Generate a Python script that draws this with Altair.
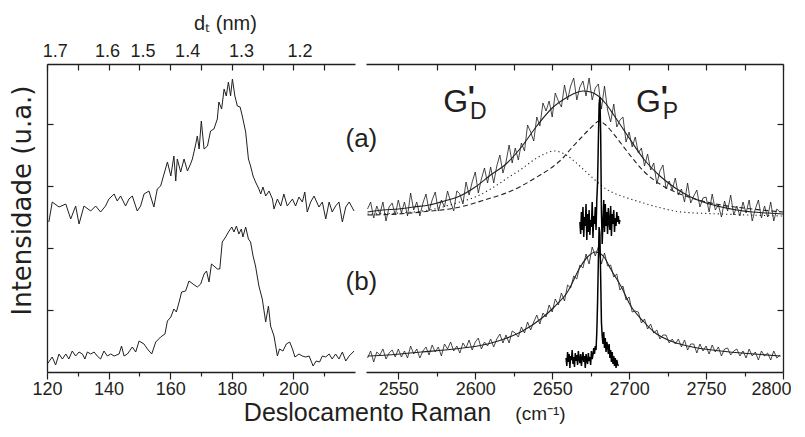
import altair as alt
import pandas as pd

INK = "#231f20"
FONT = "Liberation Sans"
YFONT = "DejaVu Sans"

# ---------------- RBM region (left panel), cm^-1 vs intensity (a.u.) ----------------
rbm_a_x = [120.6,121.7,123.9,126.1,127.7,129.3,130.4,132.0,134.2,135.8,137.4,139.0,140.1,141.8,142.8,
           143.9,145.5,146.6,147.7,149.3,150.4,151.5,153.1,154.7,155.8,156.9,158.0,159.1,160.2,161.2,
           161.8,162.3,163.4,164.5,165.6,166.6,167.2,168.3,168.8,169.4,170.1,171.0,172.1,173.1,174.2,
           175.3,175.8,176.7,177.5,178.2,178.9,179.6,180.2,181.0,181.8,182.7,183.4,184.5,185.4,186.1,
           186.9,187.7,188.8,189.4,190.1,191.0,192.1,193.2,193.7,194.8,195.9,196.9,198.0,199.7,200.7,
           201.8,202.9,203.7,204.5,205.6,206.7,208.3,209.4,210.5,211.6,212.6,213.7,214.8,215.9,217.0,
           218.1,219.7]
rbm_a_y = [150,170,165,168,153,166,148,166,161,166,160,166,173,178,171,
           176,166,173,176,161,166,178,181,165,183,186,198,210,196,216,
           191,213,200,213,201,208,213,228,236,223,251,223,226,241,243,
           253,270,263,283,276,290,276,293,276,266,265,256,240,213,206,
           196,190,183,178,185,176,181,173,163,173,166,178,166,173,166,
           175,170,180,160,170,176,165,170,153,170,160,166,170,150,165,
           170,161]

rbm_b_x = [120.1,121.7,122.8,123.9,125.0,126.1,127.1,128.2,129.3,130.4,131.5,132.3,133.1,134.2,135.3,
           136.3,137.4,138.5,139.6,140.7,141.8,143.4,144.2,145.0,146.1,147.7,148.8,149.9,151.5,152.6,
           154.0,155.3,156.9,158.3,159.1,160.2,161.2,162.0,162.9,163.7,165.0,166.1,167.4,168.8,169.9,
           171.0,171.8,172.6,173.4,174.2,175.3,176.1,176.9,178.0,179.1,180.0,180.7,181.5,182.3,183.1,
           183.6,184.5,185.4,186.1,186.9,187.7,188.8,189.9,191.0,191.9,192.6,193.7,194.8,195.5,196.6,
           197.7,198.8,199.7,200.5,201.8,202.9,204.0,205.1,206.4,207.4,208.5,209.4,210.5,211.6,212.6,
           213.7,214.8,215.9,217.0,218.1,219.7]
rbm_b_y = [8,15,7,18,13,18,13,21,16,20,18,13,20,18,20,
           16,13,21,16,18,16,18,26,16,18,25,20,31,28,23,
           18,30,35,38,51,55,63,60,70,80,81,91,88,85,88,
           98,101,90,108,106,103,103,130,135,141,145,140,146,138,143,
           135,145,133,130,116,106,86,73,50,66,46,36,16,23,21,
           28,30,23,15,18,16,15,16,6,11,10,16,15,18,13,
           18,13,20,11,16,21]

# ---------------- G' region (right panel) ----------------
g_start, g_step = 2530, 2   # sampling grid of the G' spectra
ga_y = [163,170,154,166,158,170,151,165,169,157,
        172,159,170,156,179,162,170,156,169,178,
        161,172,180,161,172,165,181,170,161,181,
        178,168,190,177,190,200,179,193,204,189,
        205,189,206,217,199,210,227,209,224,212,
        229,221,247,240,231,255,246,269,261,271,
        255,279,271,265,287,272,286,294,272,285,
        291,276,294,272,284,288,263,286,262,250,
        268,245,252,255,230,240,225,235,219,224,
        206,218,202,209,188,201,207,183,191,182,
        194,177,183,170,189,169,176,182,165,174,
        175,160,178,162,167,155,171,161,177,157,
        166,156,170,159,172,151,163,172,154,166,
        155,170,151,163,160]
gb_y = [14,21,10,20,17,23,13,19,22,15,
        23,15,21,14,26,18,23,14,21,25,
        17,27,20,25,16,28,23,30,21,26,
        19,29,24,32,22,30,34,23,30,26,
        33,25,33,38,29,37,29,41,39,35,
        45,39,50,42,50,57,48,59,55,67,
        60,73,67,79,71,87,84,96,93,107,
        104,118,108,125,116,125,108,119,106,107,
        95,98,82,86,72,75,60,61,60,49,
        53,43,48,39,42,33,37,37,29,33,
        28,33,25,32,22,28,28,19,28,21,
        26,18,27,20,25,16,23,24,17,21,
        23,16,21,14,23,16,20,12,21,16,
        19,12,21,14,17]

fit_a_x = [2530,2540,2550,2560,2570,2580,2590,2600,2610,2620,2630,2640,2650,2660,2665,2670,
           2675,2680,2685,2690,2700,2710,2720,2730,2740,2750,2760,2770,2780,2790,2800]
fit_a_y = [160,162,163,165,167,171,176,185,197,208,225,246,264,275,279,281,
           280,276,268,257,234,212,196,184,175,169,165,162,160,159,158]

comp_d_x = [2530,2550,2570,2590,2600,2610,2620,2630,2640,2645,2651,2655,2660,2665,2670,2675,
            2680,2685,2690,2695,2705,2716,2734,2760,2800]
comp_d_y = [158,159,162,170,175,183,193,203,214,218,221,220,216,210,203,196,
            189,183,179,176,171,166,160,158,156]

comp_p_x = [2530,2550,2565,2590,2608,2620,2630,2640,2651,2657,2662,2668,2673,2677,2680.5,2684,
            2690,2695,2700,2710,2720,2730,2745,2760,2780,2800]
comp_p_y = [157,158,160,165,173,179,186,195,206,214,223,233,241,247,251,248,
            238,228,218,200,188,180,172,167,163,160]

fit_b_x = [2530.1,2543.0,2564.7,2586.3,2608.0,2618.8,2629.6,2642.6,2651.3,2659.9,2668.6,2672.9,
           2678.3,2683.7,2688.0,2694.6,2701.1,2709.7,2716.2,2727.0,2737.9,2759.5,2781.1,2798.5]
fit_b_y = [16,17,20,23,28,33,40,53,65,80,106,115,
           120,115,103,86,66,50,40,31,26,21,18,16]

na_start, na_step = 2668, 0.5
narrow_a_y = [150,138,160,142,165,135,155,146,168,132,158,140,162,137,152,145,170,134,156,
              148,165,142,172,190,230,
              268,275,240,160,128,
              150,172,140,168,146,160,138,164,150,142,166,136,158,148,162,140,154,146,160,150,156,148,152]
nb_start, nb_step = 2659, 0.5
narrow_b_y = [14,6,20,10,18,4,16,12,22,8,15,5,19,11,17,7,21,13,9,18,6,14,20,10,16,4,18,12,8,19,11,15,7,21,13,17,24,
              18,26,22,40,70,110,
              145,138,95,50,
              36,28,40,24,34,20,30,26,18,28,14,22,10,20,8,16,6,14,4,12,8,6]

# labels
dt_labels = ["1.7", "1.6", "1.5", "1.4", "1.3", "1.2"]
dt_pos = [122.5, 139.5, 151.0, 165.5, 183.0, 202.0]
panel_labels = ["(a)", "(b)"]
panel_x = [2526, 2526]
panel_y = [233, 90]
band_x = [2579.2, 2704.5]          # left edge of "G"
band_y = [260, 260]                # baseline of "G"
band_prime_x = [2597.5, 2722.8]
band_prime_y = [266, 266]
band_sub = ["D", "P"]
band_sub_x = [2596.6, 2721.9]
band_sub_y = [253, 253]

y_ticks = [62, 124, 186, 248]
xl_major = [120, 140, 160, 180, 200]
xl_minor = [130, 150, 170, 190, 210]
xr_major = [2550, 2600, 2650, 2700, 2750, 2800]
xr_minor = [2575, 2625, 2675, 2725, 2775]

# ---------------- build ----------------
def df(x, y):
    return pd.DataFrame({"x": x, "y": y})

rbm_a = df(rbm_a_x, rbm_a_y)
rbm_b = df(rbm_b_x, rbm_b_y)
broad_a = df([g_start + g_step * i for i in range(len(ga_y))], ga_y)
broad_b = df([g_start + g_step * i for i in range(len(gb_y))], gb_y)
fit_a = df(fit_a_x, fit_a_y)
fit_b = df(fit_b_x, fit_b_y)
comp_d = df(comp_d_x, comp_d_y)
comp_p = df(comp_p_x, comp_p_y)
narrow_a = df([na_start + na_step * i for i in range(len(narrow_a_y))], narrow_a_y)
narrow_b = df([nb_start + nb_step * i for i in range(len(narrow_b_y))], narrow_b_y)


def axis(**kw):
    base = dict(grid=False, domainColor=INK, domainWidth=1.3, tickColor=INK, tickWidth=1.2,
                labelColor=INK, titleColor=INK, labelFont=FONT, titleFont=FONT,
                titleFontWeight="normal", labelFlush=False, labelOverlap=False, format="d")
    base.update(kw)
    return alt.Axis(**base)


xl_scale = alt.Scale(domain=[120, 220], nice=False, zero=False)
xr_scale = alt.Scale(domain=[2529, 2800], nice=False, zero=False)
y_scale = alt.Scale(domain=[0, 308], nice=False, zero=False)


def line(data, xscale, xaxis, yaxis, **mk):
    return alt.Chart(data).mark_line(**mk).encode(
        x=alt.X("x:Q", scale=xscale, axis=xaxis),
        y=alt.Y("y:Q", scale=y_scale, axis=yaxis),
    )


dt_expr = " : ".join(
    f"abs(datum.value - {p}) < 0.01 ? '{l}'" for p, l in zip(dt_pos, dt_labels)
) + " : ''"

L1 = line(rbm_a, xl_scale,
          axis(orient="bottom", values=xl_major, tickSize=7, labelFontSize=18, labelPadding=1, title=None),
          axis(orient="left", ticks=False, labels=False, title="Intensidade (u.a.)", titleFontSize=26,
               titleFont=YFONT, titleX=-17, titleY=136, titleAlign="center",
               titleBaseline="alphabetic", titleAngle=270),
          color=INK, strokeWidth=1)
L2 = line(rbm_b, xl_scale,
          axis(orient="bottom", values=xl_minor, tickSize=4, labels=False, domain=False, title=None),
          axis(orient="left", offset=-6, tickSize=6, values=y_ticks, labels=False, domain=False, title=None),
          color=INK, strokeWidth=1)
L3 = line(rbm_a, xl_scale,
          axis(orient="top", offset=-6, tickSize=6, values=xl_major + xl_minor, labels=False,
               domain=False, title=None),
          None, opacity=0)
L4 = line(rbm_a, xl_scale,
          axis(orient="top", values=dt_pos, labelExpr=dt_expr, ticks=False, tickSize=0,
               labelFontSize=18, labelPadding=8, labelBaseline="alphabetic",
               title="dₜ (nm)", titleFontSize=20, titleX=178, titleY=-35,
               titleBaseline="alphabetic", titleAlign="center"),
          None, opacity=0)
left = alt.layer(L1, L2, L3, L4).resolve_axis(x="independent", y="independent").properties(
    width=308, height=308)

R1 = line(broad_a, xr_scale,
          axis(orient="bottom", values=xr_major, tickSize=7, labelFontSize=18, labelPadding=1,
               labelFlush=True, labelFlushOffset=8,
               title="Deslocamento Raman", titleFontSize=25, titleX=1, titleY=48,
               titleAlign="center", titleBaseline="alphabetic"),
          axis(orient="right", ticks=False, labels=False, title=None),
          color="#1a1a1a", strokeWidth=0.8)
R2 = line(broad_b, xr_scale,
          axis(orient="bottom", values=xr_minor, tickSize=4, labels=False, domain=False,
               title="(cm⁻¹)", titleFontSize=19, titleX=174, titleY=47,
               titleAlign="center", titleBaseline="alphabetic"),
          axis(orient="right", offset=-6, tickSize=6, values=y_ticks, labels=False, domain=False, title=None),
          color="#1a1a1a", strokeWidth=0.8)
R3 = line(fit_a, xr_scale,
          axis(orient="top", offset=-6, tickSize=6, values=xr_major + xr_minor, labels=False,
               domain=False, title=None),
          None, color=INK, strokeWidth=1.1, interpolate="monotone")
R4 = line(fit_b, xr_scale,
          axis(orient="top", ticks=False, labels=False, title=None),
          None, color=INK, strokeWidth=1.1, interpolate="monotone")
R5 = line(comp_d, xr_scale, None, None, color=INK, strokeWidth=1.1, strokeDash=[1.2, 3],
          interpolate="monotone")
R6 = line(comp_p, xr_scale, None, None, color=INK, strokeWidth=1.1, strokeDash=[5, 3],
          interpolate="monotone")
R7 = line(narrow_a, xr_scale, None, None, color="#000000", strokeWidth=1.5)
R8 = line(narrow_b, xr_scale, None, None, color="#000000", strokeWidth=1.5)


def texts(labels, xs, ys, size, **mk):
    d = pd.DataFrame({"x": xs, "y": ys, "t": labels})
    return alt.Chart(d).mark_text(color=INK, font=FONT, fontSize=size, **mk).encode(
        x=alt.X("x:Q", scale=xr_scale, axis=None),
        y=alt.Y("y:Q", scale=y_scale, axis=None),
        text="t:N",
    )


T1 = texts(panel_labels, panel_x, panel_y, 26)
T2 = texts(["G", "G"], band_x, band_y, 32, align="left", baseline="alphabetic")
T3 = texts(["'", "'"], band_prime_x, band_prime_y, 30, fontWeight="bold", align="center",
           baseline="alphabetic")
T4 = texts(band_sub, band_sub_x, band_sub_y, 23, align="left", baseline="alphabetic")

right = alt.layer(R1, R2, R3, R4, R5, R6, R7, R8, T1, T2, T3, T4).resolve_axis(
    x="independent", y="independent").properties(width=417, height=308)

chart = alt.hconcat(left, right, spacing=11, bounds="flush").properties(
    padding={"top": 5, "left": 0, "right": 0, "bottom": 0}
).configure_view(stroke=None)

chart.save("out.html", embed_options={"renderer": "svg", "actions": False})
